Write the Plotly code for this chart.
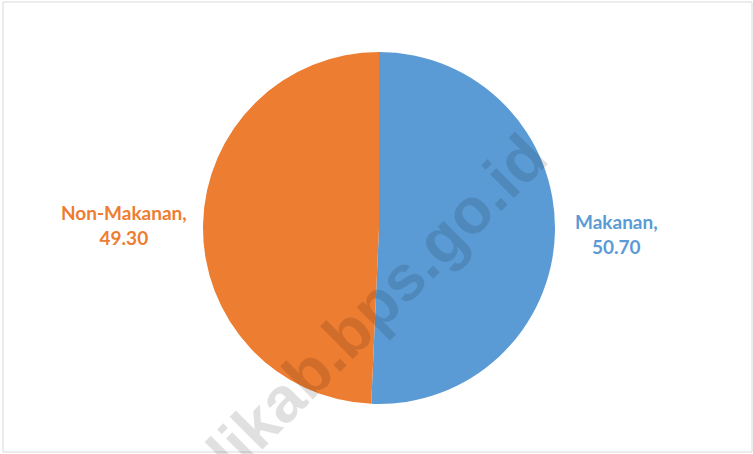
import plotly.graph_objects as go

# Share of expenditure by group (percent)
categories = ["Makanan", "Non-Makanan"]
shares = [50.70, 49.30]
colors = ["#5b9bd5", "#ed7d31"]

W, H = 753, 454
CX = 379  # pie centre, px from left

fig = go.Figure()
fig.add_trace(go.Pie(
    labels=categories,
    values=shares,
    marker=dict(colors=colors, line=dict(width=0)),
    sort=False,
    direction="clockwise",
    rotation=0,
    textinfo="none",
    hoverinfo="label+value",
    showlegend=False,
    domain=dict(x=[(CX - 350) / W, (CX + 350) / W],
                y=[1 - 404 / H, 1 - 52 / H]),
))

# Outside data labels: "<category>,<br><value>"
label_pos = {"Makanan": (616, 234), "Non-Makanan": (124, 225)}
for cat, val, col in zip(categories, shares, colors):
    px, py = label_pos[cat]
    fig.add_annotation(
        x=px / W, y=1 - py / H, xref="paper", yref="paper",
        text=f"<b>{cat},<br>{val:.2f}</b>",
        showarrow=False, xanchor="center", yanchor="middle",
        align="center",
        font=dict(family="Lato, 'Open Sans', Arial", size=19, color=col),
    )

# Site watermark across the chart
fig.add_annotation(
    x=377 / W, y=1 - 304 / H, xref="paper", yref="paper",
    text="<b>likab.bps.go.id</b>",
    showarrow=False, xanchor="center", yanchor="middle",
    textangle=-45,
    font=dict(family="Liberation Sans, Arial", size=64, color="rgba(0,0,0,0.12)"),
)

# Light chart-area frame
fig.add_shape(type="rect", xref="paper", yref="paper",
              x0=3 / W, x1=752 / W, y0=1 - 452 / H, y1=1 - 2 / H,
              line=dict(color="#d9d9d9", width=1), fillcolor="rgba(0,0,0,0)")

fig.update_layout(
    width=W, height=H,
    margin=dict(l=0, r=0, t=0, b=0),
    paper_bgcolor="white", plot_bgcolor="white",
)

fig.write_html("out.html")
